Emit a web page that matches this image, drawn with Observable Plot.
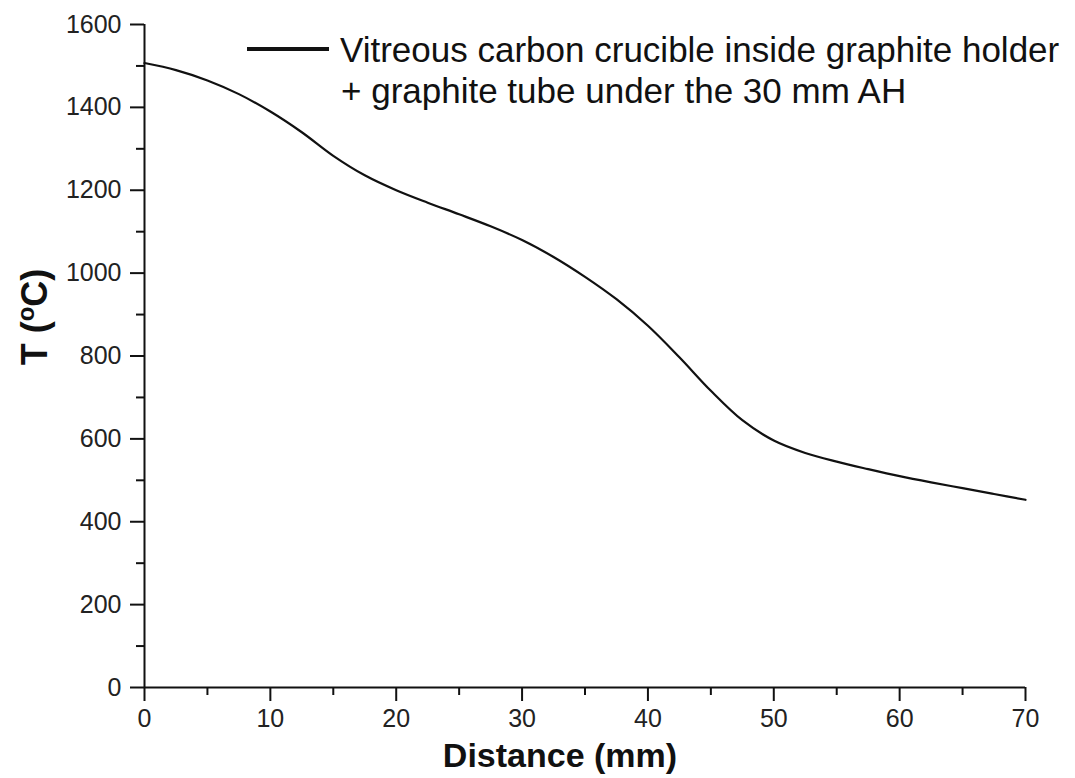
<!DOCTYPE html>
<html><head><meta charset="utf-8">
<script src="https://cdn.jsdelivr.net/npm/d3@7"></script>
<script src="https://cdn.jsdelivr.net/npm/@observablehq/plot@0.6"></script>
<style>html,body{margin:0;padding:0;background:#fff} svg{display:block}</style>
</head><body><div id="chart"></div>
<script>
// Data
const distance    = [0, 2.5, 5, 7.5, 10, 12.5, 15, 17.5, 20, 22.5, 25, 27.5, 30, 32.5, 35, 37.5, 40, 42.5, 45, 47.5, 50, 52.5, 55, 57.5, 60, 62.5, 65, 67.5, 70];
const temperature = [1507, 1490, 1465, 1432, 1390, 1340, 1283, 1236, 1200, 1170, 1142, 1113, 1080, 1039, 991, 937, 873, 797, 716, 645, 596, 566, 545, 527, 510, 495, 481, 467, 453];

const xTicks      = [0, 10, 20, 30, 40, 50, 60, 70];
const xMinorTicks = [5, 15, 25, 35, 45, 55, 65];
const yTicks      = [0, 200, 400, 600, 800, 1000, 1200, 1400, 1600];
const yMinorTicks = [100, 300, 500, 700, 900, 1100, 1300, 1500];

const legendLines = ["Vitreous carbon crucible inside graphite holder", "+ graphite tube under the 30 mm AH"];
const xLabel = "Distance (mm)";
const yLabelParts = ["T (", "o", "C)"];

const data = distance.map((d, i) => ({d, t: temperature[i]}));
const font = "'Liberation Sans', Arial, Helvetica, sans-serif";

const chart = Plot.plot({
  width: 1075,
  height: 778,
  marginLeft: 144,
  marginRight: 50,
  marginTop: 24,
  marginBottom: 91,
  style: {fontFamily: font, fontSize: "25px", color: "#111", background: "#fff"},
  x: {domain: [0, 70], axis: null},
  y: {domain: [0, 1600], axis: null},
  marks: [
    Plot.axisX(xTicks, {tickSize: 14, tickPadding: 8, strokeWidth: 2, label: null, fontSize: 25, fill: "#222", tickFormat: d => String(d)}),
    Plot.axisX(xMinorTicks, {tickSize: 8, strokeWidth: 2, label: null, tickFormat: () => ""}),
    Plot.axisY(yTicks, {tickSize: 14, tickPadding: 9, strokeWidth: 2, label: null, fontSize: 25, fill: "#222", tickFormat: d => String(d)}),
    Plot.axisY(yMinorTicks, {tickSize: 8, strokeWidth: 2, label: null, tickFormat: () => ""}),
    Plot.ruleX([0], {stroke: "#111", strokeWidth: 2}),
    Plot.ruleY([0], {stroke: "#111", strokeWidth: 2}),
    Plot.line(data, {x: "d", y: "t", stroke: "#111", strokeWidth: 2.2, curve: "catmull-rom"})
  ]
});
document.getElementById("chart").appendChild(chart);

const svg = d3.select(chart);
// Legend
const lg = svg.append("g").attr("font-family", font).attr("fill", "#111").attr("text-anchor", "start");
lg.append("line").attr("x1", 247).attr("x2", 329).attr("y1", 49).attr("y2", 49)
  .attr("stroke", "#111").attr("stroke-width", 4);
lg.append("text").attr("x", 340).attr("y", 62).attr("font-size", 35).attr("text-anchor", "start").text(legendLines[0]);
lg.append("text").attr("x", 341).attr("y", 103).attr("font-size", 35).attr("text-anchor", "start").text(legendLines[1]);

// Axis titles
svg.append("text").attr("x", 560).attr("y", 767).attr("text-anchor", "middle")
  .attr("font-family", font).attr("font-weight", "bold").attr("font-size", 34).attr("fill", "#111")
  .text(xLabel);
const yl = svg.append("text").attr("transform", "translate(47,317) rotate(-90)").attr("text-anchor", "middle")
  .attr("font-family", font).attr("font-weight", "bold").attr("font-size", 36).attr("fill", "#111");
yl.append("tspan").text(yLabelParts[0]);
yl.append("tspan").attr("font-size", 24).attr("dy", -13).text(yLabelParts[1]);
yl.append("tspan").attr("dy", 13).text(yLabelParts[2]);
</script>
</body></html>
